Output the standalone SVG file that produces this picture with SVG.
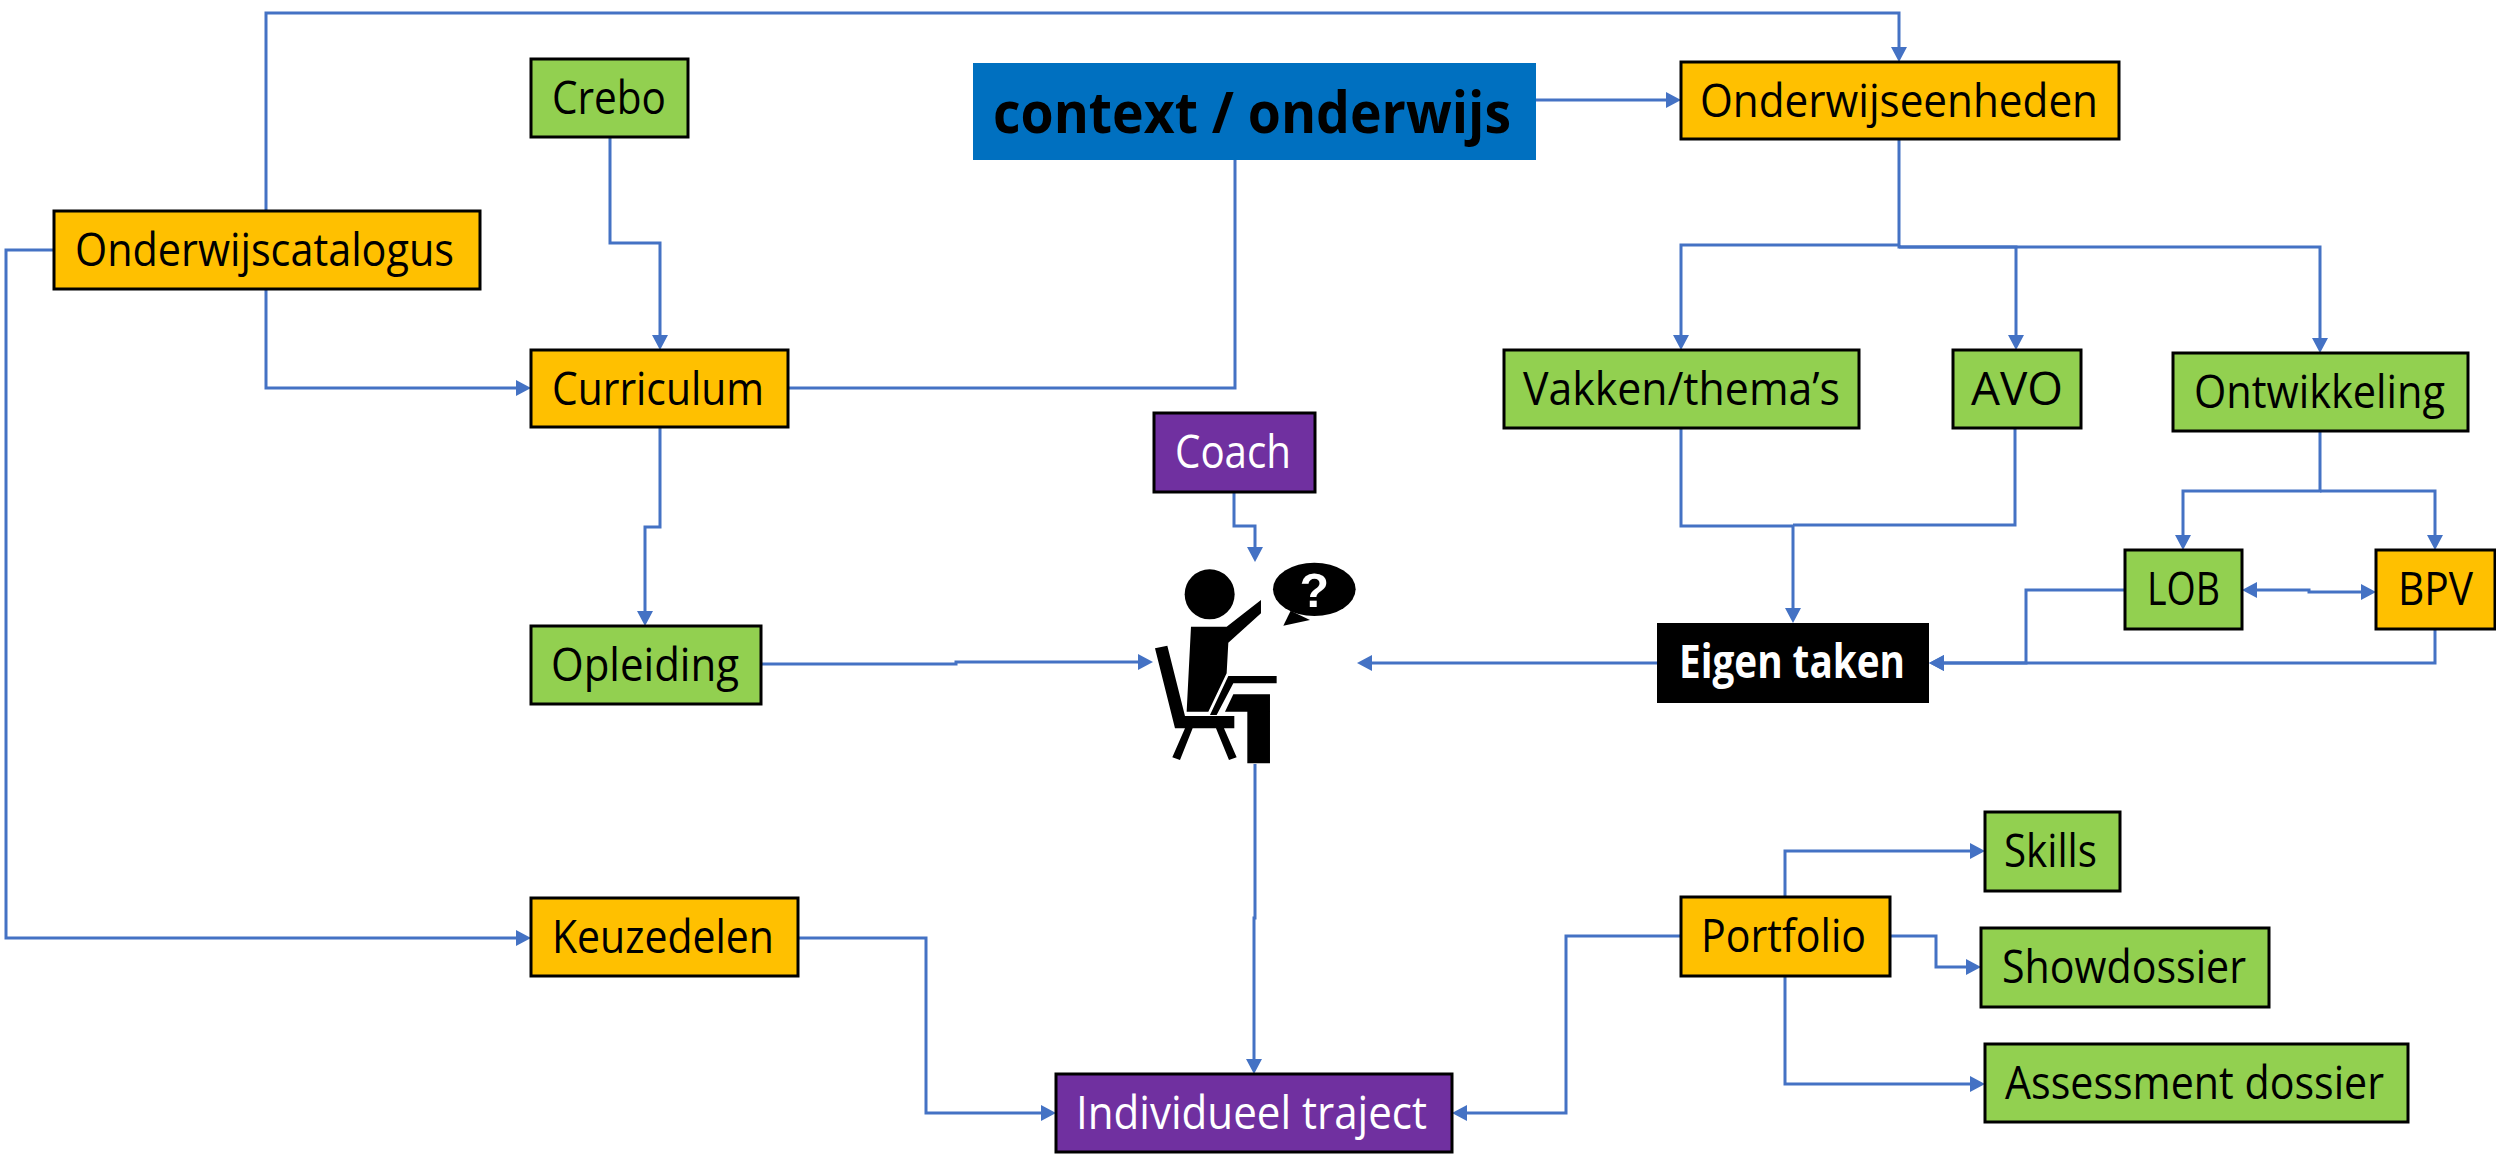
<svg xmlns="http://www.w3.org/2000/svg" width="2496" height="1160" viewBox="0 0 2496 1160">
<style>
.n{stroke:#000;stroke-width:3}
.o{fill:#FFC000}.g{fill:#92D050}.p{fill:#7030A0}
text{font-family:"Open Sans","Noto Sans","Liberation Sans",sans-serif;font-size:46px;fill:#000}
.w{fill:#fff}
.c{fill:none;stroke:#4472C4;stroke-width:3}
</style>
<defs>
<marker id="a" markerUnits="userSpaceOnUse" markerWidth="16" markerHeight="16" viewBox="0 0 15 16" refX="11" refY="8" orient="auto-start-reverse"><path d="M0 0L15 8L0 16Z" fill="#4472C4"/></marker>
</defs>
<rect width="2496" height="1160" fill="#fff"/>
<g id="connectors">
<path class="c" d="M266 211V13H1899V58" marker-end="url(#a)"/>
<path class="c" d="M54 250H6V938H527" marker-end="url(#a)"/>
<path class="c" d="M266 289V388H527" marker-end="url(#a)"/>
<path class="c" d="M610 137V243H660V346" marker-end="url(#a)"/>
<path class="c" d="M788 388H1235V160"/>
<path class="c" d="M1536 100H1677" marker-end="url(#a)"/>
<path class="c" d="M1899 139V245H1681V346" marker-end="url(#a)"/>
<path class="c" d="M1899 245V247H2016V346" marker-end="url(#a)"/>
<path class="c" d="M1899 247H2320V349" marker-end="url(#a)"/>
<path class="c" d="M1681 428V526H1793V619" marker-end="url(#a)"/>
<path class="c" d="M2015 428V525H1793"/>
<path class="c" d="M2320 431V491H2183V546" marker-end="url(#a)"/>
<path class="c" d="M2320 491H2435V546" marker-end="url(#a)"/>
<path class="c" d="M2246 590H2309V592H2372" marker-start="url(#a)" marker-end="url(#a)"/>
<path class="c" d="M2125 590H2026V663H1933" marker-end="url(#a)"/>
<path class="c" d="M2435 629V663H1933" marker-end="url(#a)"/>
<path class="c" d="M1657 663H1361" marker-end="url(#a)"/>
<path class="c" d="M761 664H956V662H1149" marker-end="url(#a)"/>
<path class="c" d="M660 427V527H645V622" marker-end="url(#a)"/>
<path class="c" d="M1234 492V526H1255V558" marker-end="url(#a)"/>
<path class="c" d="M1255 764V918H1254V1070" marker-end="url(#a)"/>
<path class="c" d="M798 938H926V1113H1052" marker-end="url(#a)"/>
<path class="c" d="M1681 936H1566V1113H1456" marker-end="url(#a)"/>
<path class="c" d="M1785 897V851H1981" marker-end="url(#a)"/>
<path class="c" d="M1890 936H1936V967H1977" marker-end="url(#a)"/>
<path class="c" d="M1785 976V1084H1981" marker-end="url(#a)"/>
</g>
<g id="catalogus"><rect class="n o" x="54" y="211" width="426" height="78"/><text x="75" y="266" textLength="379" lengthAdjust="spacingAndGlyphs">Onderwijscatalogus</text></g>
<g id="crebo"><rect class="n g" x="531" y="59" width="157" height="78"/><text x="552" y="114" textLength="114" lengthAdjust="spacingAndGlyphs">Crebo</text></g>
<g id="curriculum"><rect class="n o" x="531" y="350" width="257" height="77"/><text x="552" y="405" textLength="212" lengthAdjust="spacingAndGlyphs">Curriculum</text></g>
<g id="context"><rect x="973" y="63" width="563" height="97" fill="#0070C0"/><text x="993" y="133" style="font-size:58px" font-weight="700" textLength="518" lengthAdjust="spacingAndGlyphs">context / onderwijs</text></g>
<g id="onderwijseenheden"><rect class="n o" x="1681" y="62" width="438" height="77"/><text x="1700" y="117" textLength="398" lengthAdjust="spacingAndGlyphs">Onderwijseenheden</text></g>
<g id="vakken"><rect class="n g" x="1504" y="350" width="355" height="78"/><text x="1523" y="405" textLength="317" lengthAdjust="spacingAndGlyphs">Vakken/thema’s</text></g>
<g id="avo"><rect class="n g" x="1953" y="350" width="128" height="78"/><text x="1971" y="405" textLength="92" lengthAdjust="spacingAndGlyphs">AVO</text></g>
<g id="ontwikkeling"><rect class="n g" x="2173" y="353" width="295" height="78"/><text x="2194" y="408" textLength="251" lengthAdjust="spacingAndGlyphs">Ontwikkeling</text></g>
<g id="lob"><rect class="n g" x="2125" y="550" width="117" height="79"/><text x="2147" y="605" textLength="73" lengthAdjust="spacingAndGlyphs">LOB</text></g>
<g id="bpv"><rect class="n o" x="2376" y="550" width="119" height="79"/><text x="2398" y="605" textLength="75" lengthAdjust="spacingAndGlyphs">BPV</text></g>
<g id="eigen-taken"><rect x="1657" y="623" width="272" height="80" fill="#000"/><text class="w" x="1679" y="678" font-weight="700" textLength="226" lengthAdjust="spacingAndGlyphs">Eigen taken</text></g>
<g id="coach"><rect class="n p" x="1154" y="413" width="161" height="79"/><text class="w" x="1175" y="468" textLength="116" lengthAdjust="spacingAndGlyphs">Coach</text></g>
<g id="opleiding"><rect class="n g" x="531" y="626" width="230" height="78"/><text x="551" y="681" textLength="188" lengthAdjust="spacingAndGlyphs">Opleiding</text></g>
<g id="keuzedelen"><rect class="n o" x="531" y="898" width="267" height="78"/><text x="552" y="953" textLength="222" lengthAdjust="spacingAndGlyphs">Keuzedelen</text></g>
<g id="individueel"><rect class="n p" x="1056" y="1074" width="396" height="78"/><text class="w" x="1076" y="1129" textLength="351" lengthAdjust="spacingAndGlyphs">Individueel traject</text></g>
<g id="portfolio"><rect class="n o" x="1681" y="897" width="209" height="79"/><text x="1701" y="952" textLength="165" lengthAdjust="spacingAndGlyphs">Portfolio</text></g>
<g id="skills"><rect class="n g" x="1985" y="812" width="135" height="79"/><text x="2004" y="867" textLength="93" lengthAdjust="spacingAndGlyphs">Skills</text></g>
<g id="showdossier"><rect class="n g" x="1981" y="928" width="288" height="79"/><text x="2002" y="983" textLength="244" lengthAdjust="spacingAndGlyphs">Showdossier</text></g>
<g id="assessment"><rect class="n g" x="1985" y="1044" width="423" height="78"/><text x="2005" y="1099" textLength="379" lengthAdjust="spacingAndGlyphs">Assessment dossier</text></g>
<g id="student" transform="translate(1080 400) scale(.3333)" fill="#000">
<circle cx="389" cy="583" r="75"/>
<path d="M333 680H440L543 600V640L445 728L440 820L385 935H320Z"/>
<path d="M225 745L262 737L315 948H463V985H432L470 1072L447 1080L408 985H338L300 1080L277 1072L315 985H285Z"/>
<path d="M445 828H590V850H460L410 945H390Z"/>
<path d="M460 883H570V1090H502V935H435Z"/>
<ellipse cx="703" cy="568" rx="124" ry="80"/>
<path d="M632 632L610 677L690 660Z"/>
<text x="703" y="620" text-anchor="middle" style="font-family:'Liberation Sans',sans-serif;font-size:145px;font-weight:700;fill:#fff">?</text>
</g>
</svg>
